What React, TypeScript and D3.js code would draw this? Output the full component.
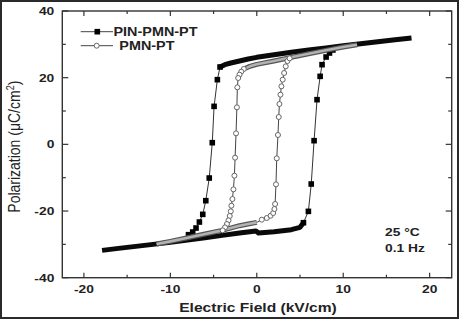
import React from 'react';
import * as d3 from 'd3';

const xMajor = [-20, -10, 0, 10, 20];
const xMinor = [-15, -5, 5, 15];
const yMajor = [-40, -20, 0, 20, 40];
const yMinor = [-30, -10, 10, 30];

const seriesNames = ['PIN-PMN-PT', 'PMN-PT'];

// PIN-PMN-PT (black squares)
const pinUpperBandE = [17.9, 16, 14, 12, 10, 8, 6, 4, 2, 0, -1, -2, -3, -3.7, -4.25];
const pinUpperBandP = [31.9, 31.4, 30.8, 30.2, 29.6, 28.9, 28.3, 27.6, 26.9, 26.1, 25.6, 25.0, 24.4, 23.9, 23.2];
const pinLowerBandE = [-17.9, -16, -14, -12, -10, -8, -6, -4, -2, -0.1, 0.2, 2, 4, 5, 5.4];
const pinLowerBandP = [-31.8, -31.2, -30.6, -30.0, -29.4, -28.7, -28.0, -27.3, -26.6, -26.0, -26.6, -26.2, -25.6, -24.9, -23.5];
const pinDownE = [-4.25, -4.56, -4.94, -5.15, -5.5, -5.9, -6.25, -6.64, -7.03, -7.41, -7.9];
const pinDownP = [23.2, 19.4, 11.4, 0.5, -10.1, -16.9, -21.0, -23.3, -25.1, -26.3, -27.1];
const pinUpE = [5.4, 5.97, 6.3, 6.63, 6.97, 7.33, 7.55, 8.02, 8.41, 8.8];
const pinUpP = [-23.5, -20.1, -11.9, 1.1, 13.4, 20.4, 23.9, 26.2, 27.4, 28.3];

// PMN-PT (open circles)
const pmnUpperBandE = [11.6, 10, 8, 6, 4, 2, 0, -0.8, -1.3];
const pmnUpperBandP = [29.9, 29.2, 28.2, 27.2, 26.1, 25.0, 24.0, 23.4, 22.8];
const pmnLowerBandE = [-11.6, -10, -8, -6, -4, -2, -1, 0];
const pmnLowerBandP = [-29.9, -29.1, -28.0, -26.9, -25.8, -24.4, -23.9, -23.4];
const pmnDownE = [-1.5, -1.8, -2.0, -2.15, -2.25, -2.3, -2.4, -2.51, -2.59, -2.7, -2.82, -2.94, -3.01, -3.13, -3.27, -3.45, -3.68, -3.95];
const pmnDownP = [22.6, 21.8, 20.9, 19.9, 17.1, 11.1, 3.3, -4.0, -9.4, -13.5, -16.4, -18.4, -20.1, -21.5, -22.8, -23.9, -24.9, -25.8];
const pmnUpE = [0.58, 1.16, 1.6, 1.9, 2.04, 2.12, 2.22, 2.31, 2.45, 2.54, 2.62, 2.74, 2.85, 3.0, 3.16, 3.35, 3.55, 3.8];
const pmnUpP = [-22.6, -22.1, -21.4, -20.6, -19.4, -17.9, -12.0, -4.2, 2.8, 8.2, 12.1, 14.9, 17.4, 19.4, 21.4, 23.4, 25.0, 25.8];

const FONT = '"Liberation Sans", Arial, sans-serif';

const zip = (e: number[], p: number[]) => e.map((v, i) => [v, p[i]] as [number, number]);

export default function App() {
  const W = 460, H = 320;
  const left = 62.3, right = 451.7, top = 11, bottom = 277.7;
  const x = d3.scaleLinear().domain([-22.5, 22.55]).range([left, right]);
  const y = d3.scaleLinear().domain([-40, 40]).range([bottom, top]);
  const line = d3.line<[number, number]>().x(d => x(d[0])).y(d => y(d[1]));

  const pinBands = [zip(pinUpperBandE, pinUpperBandP), zip(pinLowerBandE, pinLowerBandP)];
  const pinSwitch = [zip(pinDownE, pinDownP), zip(pinUpE, pinUpP)];
  const pmnBands = [zip(pmnUpperBandE, pmnUpperBandP), zip(pmnLowerBandE, pmnLowerBandP)];
  const pmnSwitch = [
    [[-1.3, 22.8] as [number, number], ...zip(pmnDownE, pmnDownP), [-4, -25.8] as [number, number]],
    [[0, -23.4] as [number, number], ...zip(pmnUpE, pmnUpP), [4, 26.1] as [number, number]],
  ];
  const pmnMarkers = [...zip(pmnDownE, pmnDownP), ...zip(pmnUpE, pmnUpP)];
  const pinMarkers = [...zip(pinDownE, pinDownP), ...zip(pinUpE, pinUpP)];

  const sq = 5.6;

  return (
    <svg width={W} height={H} style={{ position: 'absolute', left: 0, top: 0, background: '#fff' }} fontFamily={FONT}>
      <rect x={0} y={0} width={W} height={H} fill="#fff" />
      <rect x={1} y={1} width={457} height={317} fill="none" stroke="#2a2a2a" strokeWidth={2} />
      {/* plot frame */}
      <rect x={left} y={top} width={right - left} height={bottom - top} fill="none" stroke="#333" strokeWidth={1.4} />
      {/* ticks */}
      {xMajor.map(v => (
        <g key={'xM' + v} stroke="#333" strokeWidth={1.2}>
          <line x1={x(v)} x2={x(v)} y1={bottom} y2={bottom - 5} />
          <line x1={x(v)} x2={x(v)} y1={top} y2={top + 5} />
        </g>
      ))}
      {xMinor.map(v => (
        <g key={'xm' + v} stroke="#333" strokeWidth={1.2}>
          <line x1={x(v)} x2={x(v)} y1={bottom} y2={bottom - 3} />
          <line x1={x(v)} x2={x(v)} y1={top} y2={top + 3} />
        </g>
      ))}
      {yMajor.map(v => (
        <g key={'yM' + v} stroke="#333" strokeWidth={1.2}>
          <line x1={left} x2={left + 6} y1={y(v)} y2={y(v)} />
          <line x1={right} x2={right - 6} y1={y(v)} y2={y(v)} />
        </g>
      ))}
      {yMinor.map(v => (
        <g key={'ym' + v} stroke="#333" strokeWidth={1.2}>
          <line x1={left} x2={left + 3.5} y1={y(v)} y2={y(v)} />
          <line x1={right} x2={right - 3.5} y1={y(v)} y2={y(v)} />
        </g>
      ))}
      {/* tick labels */}
      {xMajor.map(v => (
        <text key={'xl' + v} transform={`translate(${x(v)},293.3) scale(1.2,1)`} textAnchor="middle"
          fontSize={11.5} fontWeight="bold" fill="#222">{v}</text>
      ))}
      {yMajor.map(v => (
        <text key={'yl' + v} transform={`translate(54.3,${y(v) + 4}) scale(1.2,1)`} textAnchor="end"
          fontSize={11.5} fontWeight="bold" fill="#222">{v}</text>
      ))}
      {/* axis titles */}
      <text transform="translate(258,312) scale(1.2,1)" textAnchor="middle" fontSize={13} fontWeight="bold" fill="#222">
        Electric Field (kV/cm)
      </text>
      <text transform="translate(20,146.7) rotate(-90) scale(1,1.2)" textAnchor="middle" fontSize={14} fill="#222">
        Polarization (μC/cm<tspan fontSize={9} dy={-5}>2</tspan><tspan dy={5}>)</tspan>
      </text>

      {/* PIN-PMN-PT */}
      {pinBands.map((b, i) => (
        <path key={'pb' + i} d={line(b) || ''} fill="none" stroke="#0a0a0a" strokeWidth={5} strokeLinejoin="round" />
      ))}
      {pinSwitch.map((b, i) => (
        <path key={'ps' + i} d={line(b) || ''} fill="none" stroke="#333" strokeWidth={1} />
      ))}
      {pinMarkers.map((d, i) => (
        <rect key={'pm' + i} x={x(d[0]) - sq / 2} y={y(d[1]) - sq / 2} width={sq} height={sq} fill="#000" />
      ))}

      {/* PMN-PT */}
      {pmnBands.map((b, i) => (
        <g key={'gb' + i}>
          <path d={line(b) || ''} fill="none" stroke="#555" strokeWidth={5} strokeLinejoin="round" />
          <path d={line(b) || ''} fill="none" stroke="#b2b2b2" strokeWidth={2.6} strokeLinejoin="round" />
        </g>
      ))}
      {pmnSwitch.map((b, i) => (
        <path key={'gs' + i} d={line(b) || ''} fill="none" stroke="#444" strokeWidth={1} />
      ))}
      {pmnMarkers.map((d, i) => (
        <circle key={'gm' + i} cx={x(d[0])} cy={y(d[1])} r={2.5} fill="#fff" stroke="#666" strokeWidth={1} />
      ))}

      {/* legend */}
      <line x1={80.7} x2={113} y1={31.7} y2={31.7} stroke="#444" strokeWidth={1} />
      <rect x={97.3 - sq / 2} y={31.7 - sq / 2} width={sq} height={sq} fill="#000" />
      <text transform="translate(113.5,36) scale(1.2,1)" fontSize={12} fontWeight="bold" fill="#222">{seriesNames[0]}</text>
      <line x1={80.7} x2={113} y1={45.7} y2={45.7} stroke="#444" strokeWidth={1} />
      <circle cx={96.7} cy={45.7} r={2.5} fill="#fff" stroke="#666" strokeWidth={1} />
      <text transform="translate(119.3,50) scale(1.2,1)" fontSize={12} fontWeight="bold" fill="#222">{seriesNames[1]}</text>

      {/* annotation */}
      <text transform="translate(385,236) scale(1.2,1)" fontSize={11.5} fontWeight="bold" fill="#222">25 °C</text>
      <text transform="translate(385,251.7) scale(1.2,1)" fontSize={11.5} fontWeight="bold" fill="#222">0.1 Hz</text>
    </svg>
  );
}
